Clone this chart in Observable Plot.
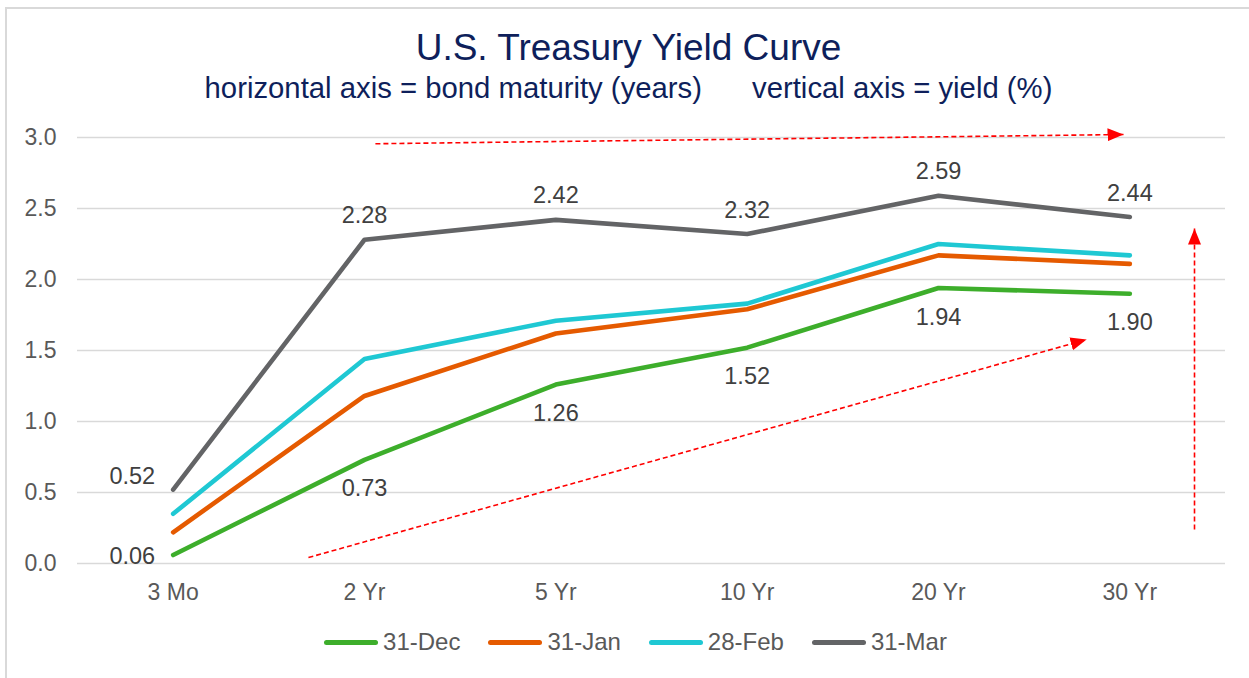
<!DOCTYPE html>
<html>
<head>
<meta charset="utf-8">
<script src="https://cdn.jsdelivr.net/npm/d3@7"></script>
<script src="https://cdn.jsdelivr.net/npm/@observablehq/plot@0.6"></script>
<style>
  html, body { margin: 0; padding: 0; background: #fff; }
  body { width: 1249px; height: 678px; overflow: hidden; position: relative;
         font-family: "Liberation Sans", Arial, sans-serif; }
  #frame { position: absolute; left: 5px; top: 7px; width: 1400px; height: 800px;
           border: 2px solid #d9d9d9; box-sizing: border-box; pointer-events: none; }
  #head { height: 110px; text-align: center; color: #0e1f5b; padding-left: 8px; box-sizing: border-box; }
  #title { font-size: 37px; line-height: 40px; padding-top: 28px; }
  #subtitle { font-size: 29.3px; line-height: 34px; margin-top: 3px; white-space: nowrap; }
  #subtitle span + span { margin-left: 50px; }
  #legend { display: flex; justify-content: center; align-items: center; height: 26px;
            margin-top: 21px; padding-left: 22px; font-size: 24px; color: #595959; }
  .item { display: flex; align-items: center; margin: 0 14px; }
  .sw { width: 54px; height: 5px; border-radius: 3px; margin-right: 5px; }
  #chart svg { display: block; }
</style>
</head>
<body>
<div id="frame"></div>
<div id="head">
  <div id="title">U.S. Treasury Yield Curve</div>
  <div id="subtitle"><span>horizontal axis = bond maturity (years)</span><span>vertical axis = yield (%)</span></div>
</div>
<div id="chart"></div>
<div id="legend"></div>
<script>
// ---- data ----
const maturities = ["3 Mo", "2 Yr", "5 Yr", "10 Yr", "20 Yr", "30 Yr"];
const seriesNames = ["31-Dec", "31-Jan", "28-Feb", "31-Mar"];
const seriesColors = ["#3dae2b", "#e55a00", "#1fc8d3", "#636466"];
const dec = [0.06, 0.73, 1.26, 1.52, 1.94, 1.90];
const jan = [0.22, 1.18, 1.62, 1.79, 2.17, 2.11];
const feb = [0.35, 1.44, 1.71, 1.83, 2.25, 2.17];
const mar = [0.52, 2.28, 2.42, 2.32, 2.59, 2.44];
const yTicks = [0, 0.5, 1.0, 1.5, 2.0, 2.5, 3.0];
// annotation arrows in data units (x = maturity index, y = yield)
const arrows = [
  {x1: 1.057, y1: 2.956, x2: 4.967, y2: 3.021},
  {x1: 0.707, y1: 0.042, x2: 4.774, y2: 1.577},
  {x1: 5.338, y1: 0.239, x2: 5.338, y2: 2.359}
];

const allSeries = [dec, jan, feb, mar];
const recs = s => s.map((v, i) => ({i, v, t: v.toFixed(2)}));
const decRecs = recs(dec), marRecs = recs(mar);

const lineMarks = allSeries.map((s, k) =>
  Plot.line(recs(s), {x: "i", y: "v", stroke: seriesColors[k], strokeWidth: 4.6,
    strokeLinecap: "round", strokeLinejoin: "round"}));

const labelColor = "#404040";
const lf = 23.5;
const plot = Plot.plot({
  width: 1249,
  height: 498,
  marginLeft: 77,
  marginRight: 24,
  marginTop: 27,
  marginBottom: 45,
  style: {fontFamily: "'Liberation Sans', Arial, sans-serif", fontSize: "23px", color: "#595959", background: "transparent"},
  x: {type: "linear", domain: [-0.5, 5.5], ticks: [0, 1, 2, 3, 4, 5],
      tickFormat: i => maturities[i] ?? "", tickSize: 0, tickPadding: 20, label: null},
  y: {domain: [0, 3], ticks: yTicks, tickFormat: d3.format(".1f"), tickSize: 0, tickPadding: 21, label: null},
  marks: [
    Plot.ruleY(yTicks, {stroke: "#d9d9d9", strokeWidth: 1.6}),
    ...lineMarks,
    Plot.link(arrows, {x1: "x1", y1: "y1", x2: "x2", y2: "y2", stroke: "#ff0000",
      strokeWidth: 1.6, strokeDasharray: "5,3"}),
    Plot.text(marRecs.filter(d => d.i > 0), {x: "i", y: "v", text: "t", dy: -24, fill: labelColor, fontSize: lf}),
    Plot.text(marRecs.filter(d => d.i === 0), {x: "i", y: "v", text: "t", dx: -18, dy: -13, textAnchor: "end", fill: labelColor, fontSize: lf}),
    Plot.text(decRecs.filter(d => d.i > 0), {x: "i", y: "v", text: "t", dy: 29, fill: labelColor, fontSize: lf}),
    Plot.text(decRecs.filter(d => d.i === 0), {x: "i", y: "v", text: "t", dx: -18, dy: 1, textAnchor: "end", fill: labelColor, fontSize: lf})
  ]
});

// filled arrowheads for the annotation links
const ns = "http://www.w3.org/2000/svg";
const defs = document.createElementNS(ns, "defs");
const marker = document.createElementNS(ns, "marker");
marker.setAttribute("id", "redhead");
marker.setAttribute("markerUnits", "userSpaceOnUse");
marker.setAttribute("markerWidth", "18");
marker.setAttribute("markerHeight", "16");
marker.setAttribute("viewBox", "0 -8 18 16");
marker.setAttribute("refX", "16");
marker.setAttribute("refY", "0");
marker.setAttribute("orient", "auto");
const head = document.createElementNS(ns, "path");
head.setAttribute("d", "M0,-6.5L16,0L0,6.5Z");
head.setAttribute("fill", "#ff0000");
head.setAttribute("stroke", "none");
marker.appendChild(head);
defs.appendChild(marker);
plot.insertBefore(defs, plot.firstChild);
plot.querySelectorAll('g[aria-label="link"] path').forEach(p => p.setAttribute("marker-end", "url(#redhead)"));

document.getElementById("chart").appendChild(plot);

// legend
const legend = document.getElementById("legend");
seriesNames.forEach((name, k) => {
  const item = document.createElement("div");
  item.className = "item";
  const sw = document.createElement("span");
  sw.className = "sw";
  sw.style.background = seriesColors[k];
  const lab = document.createElement("span");
  lab.textContent = name;
  item.appendChild(sw);
  item.appendChild(lab);
  legend.appendChild(item);
});
</script>
</body>
</html>
